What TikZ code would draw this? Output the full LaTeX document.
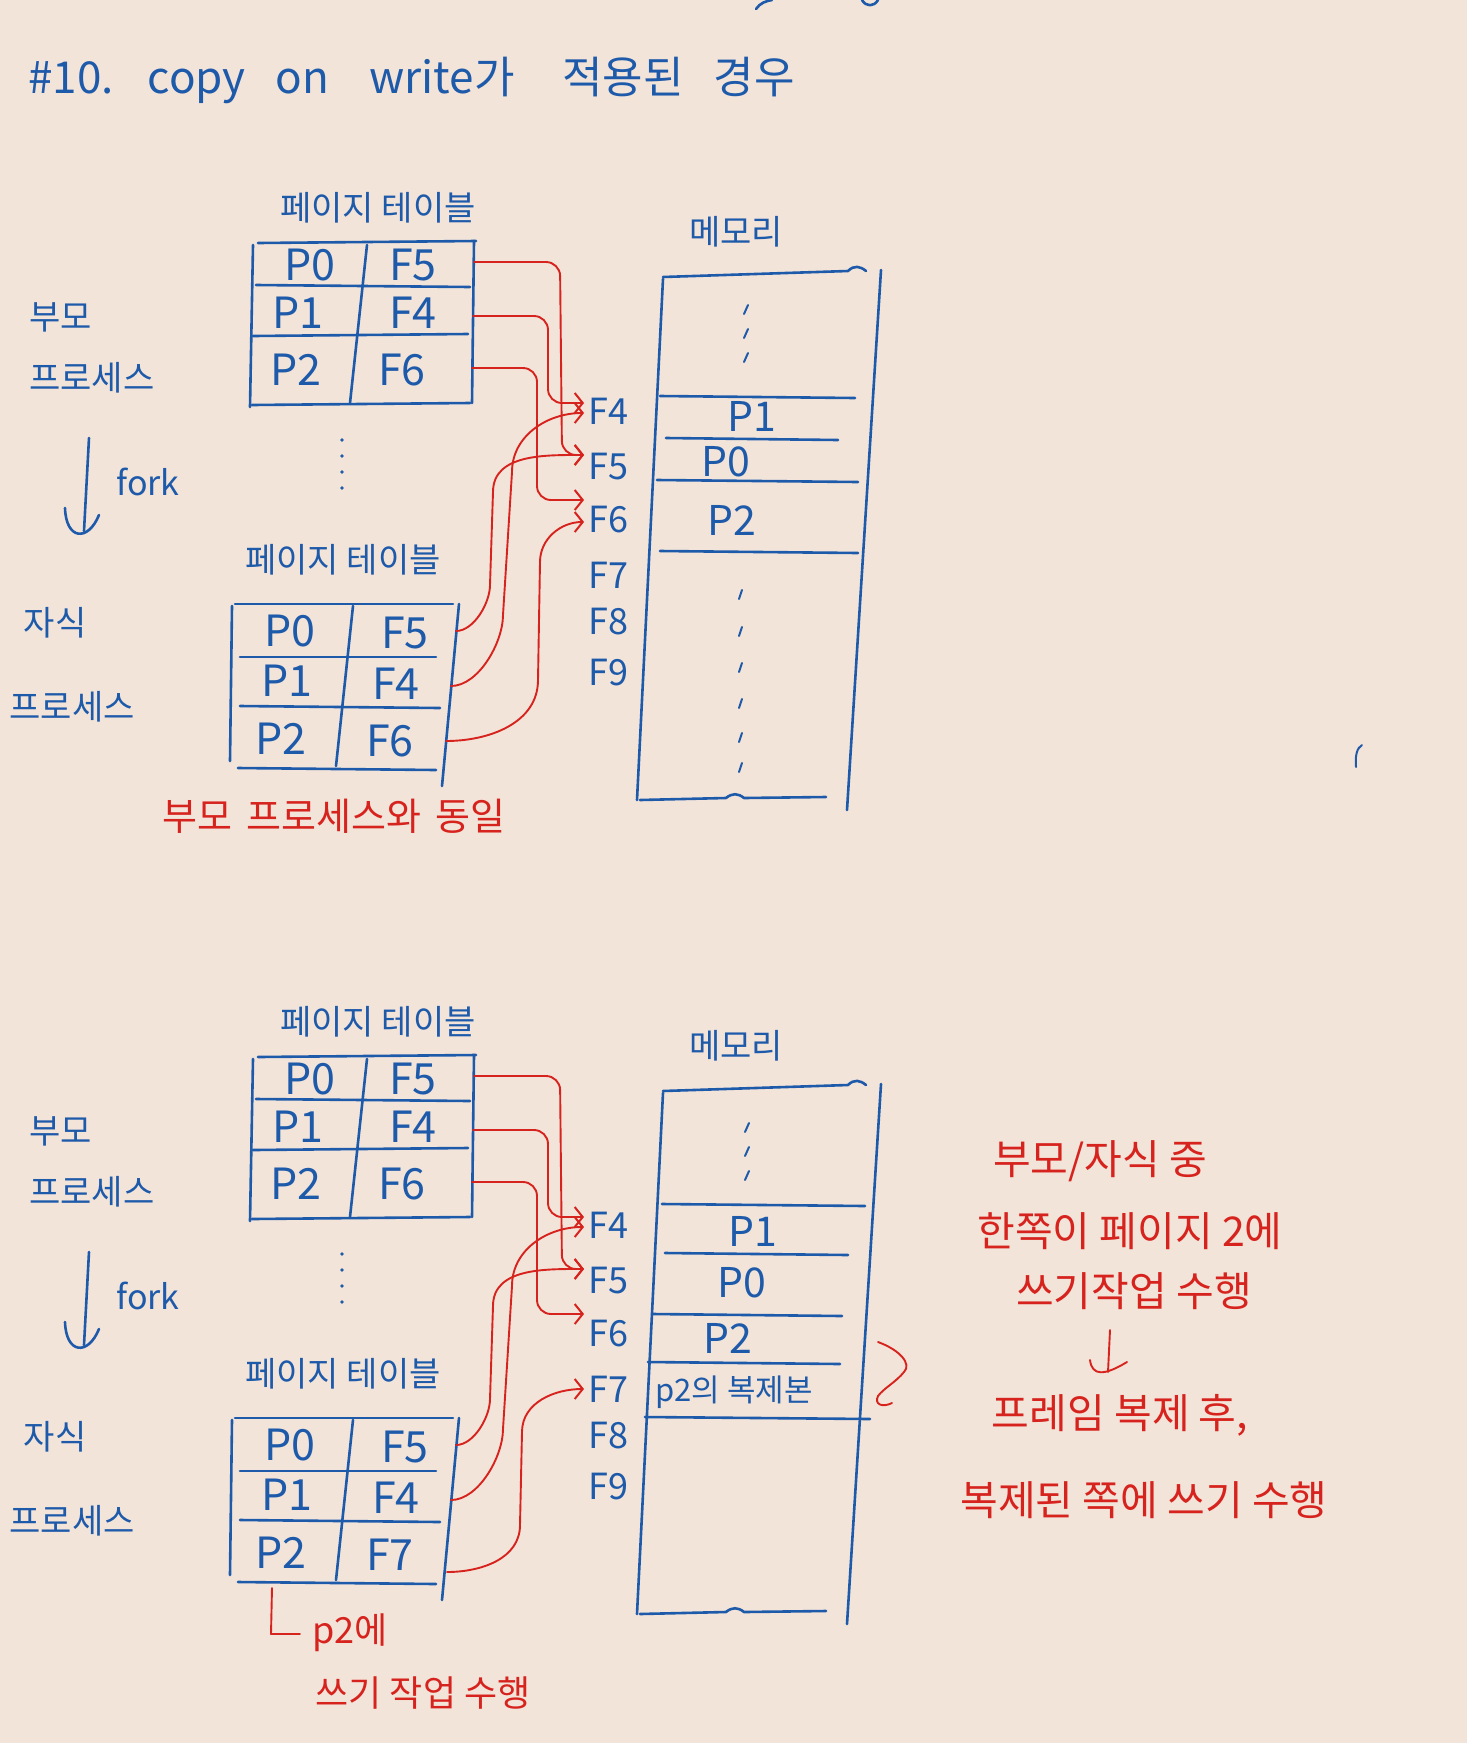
\documentclass[tikz,border=0pt]{standalone}
\usepackage{fontspec}
\setmainfont{Noto Sans CJK KR}
\usetikzlibrary{arrows.meta}
\definecolor{paper}{HTML}{F3E4D9}
\definecolor{inkblue}{HTML}{1E5AAA}
\definecolor{inkred}{HTML}{D7231E}
\tikzset{
  bl/.style={draw=inkblue, line width=2.6pt, line cap=round, line join=round},
  rl/.style={draw=inkred, line width=1.9pt, line cap=round, line join=round},
  rarrow/.style={rl, -{Straight Barb[length=8pt,width=20pt,line width=2pt]}},
  bt/.style={text=inkblue, inner sep=0pt, font=\fontsize{34}{40}\selectfont},
  rt/.style={text=inkred, inner sep=0pt, font=\fontsize{34}{40}\selectfont},
  rbig/.style={rt, font=\fontsize{41}{46}\selectfont},
  cell/.style={bt, font=\fontsize{43}{46}\selectfont},
  frm/.style={bt, anchor=west, inner sep=4pt, font=\fontsize{36}{40}\selectfont},
  memt/.style={bt, font=\fontsize{41}{46}\selectfont},
}
\newcommand\cowhalf[3]{%
\begin{scope}[yshift=-#2pt]
  % left labels
  \node[bt] (#1par1) at (61,317) {부모};
  \node[bt] (#1par2) at (92,378) {프로세스};
  \coordinate (#1forktop) at (89,438);
  \coordinate (#1forkbot) at (84,531);
  \draw[bl] (#1forktop) -- (#1forkbot);
  \draw[bl] (65,508) .. controls (66,540) and (88,542) .. (99,515);
  \node[bt] (#1fork) at (148,482) {fork};
  \node[bt] (#1chd1) at (55,623) {자식};
  \node[bt] (#1chd2) at (72,707) {프로세스};
  % table titles
  \node[bt] (#1ptl) at (378,208) {페이지 테이블};
  \node[bt] (#1ctl) at (343,560) {페이지 테이블};
  \node[bt] (#1mem) at (736,232) {메모리};
  % parent table
  \draw[bl] (258,243) -- (476,241);
  \draw[bl] (253,245) -- (250,407);
  \draw[bl] (474,241) -- (472,403);
  \draw[bl] (252,405) -- (470,403);
  \draw[bl] (256,285) -- (470,287);
  \draw[bl] (253,336) -- (468,334);
  \draw[bl] (367,245) -- (350,403);
  \node[cell] (#1pp0) at (310,265) {P0};
  \node[cell] (#1pf5) at (413,265) {F5};
  \node[cell] (#1pp1) at (298,313) {P1};
  \node[cell] (#1pf4) at (413,313) {F4};
  \node[cell] (#1pp2) at (296,370) {P2};
  \node[cell] (#1pf6) at (402,370) {F6};
  \coordinate (#1pr0) at (474,262);
  \coordinate (#1pr1) at (473,316);
  \coordinate (#1pr2) at (472,368);
  % dots between tables
  \foreach \yy in {440,456,472,488} \fill[inkblue] (342,\yy) circle (1.8pt);
  % child table
  \draw[bl] (235,604) -- (453,604);
  \draw[bl] (232,606) -- (230,761);
  \draw[bl] (459,604) -- (442,786);
  \draw[bl] (238,768) -- (436,770);
  \draw[bl] (240,657) -- (436,657);
  \draw[bl] (240,706) -- (440,708);
  \draw[bl] (353,606) -- (336,766);
  \node[cell] (#1cp0) at (290,631) {P0};
  \node[cell] (#1cf5) at (405,633) {F5};
  \node[cell] (#1cp1) at (287,681) {P1};
  \node[cell] (#1cf4) at (396,684) {F4};
  \node[cell] (#1cp2) at (281,739) {P2};
  \node[cell] (#1cfx) at (390,741) {#3};
  \coordinate (#1cr0) at (456,631);
  \coordinate (#1cr1) at (451,686);
  % frame labels
  \node[frm] (#1f4) at (584,411) {F4};
  \node[frm] (#1f5) at (584,467) {F5};
  \node[frm] (#1f6) at (584,520) {F6};
  \node[frm] (#1f7) at (584,575) {F7};
  \node[frm] (#1f8) at (584,622) {F8};
  \node[frm] (#1f9) at (584,673) {F9};
  % memory outline
  \draw[bl] (663,277) -- (848,271) .. controls (854,265) and (860,266) .. (866,271);
  \draw[bl] (663,279) -- (637,800);
  \draw[bl] (881,270) -- (847,810);
  \draw[bl] (640,800) -- (726,798) .. controls (732,793) and (738,793) .. (744,798) -- (826,797);
  % parent -> frame arrows
  \draw[rarrow, rounded corners=14pt] (#1pr0) -- (560,262) -- (562,455) -- ([yshift=12pt]#1f5.west);
  \draw[rarrow, rounded corners=14pt] (#1pr1) -- (548,316) -- (548,403) -- ([yshift=8pt]#1f4.west);
  \draw[rarrow, rounded corners=14pt] (#1pr2) -- (537,368) -- (537,500) -- ([yshift=20pt]#1f6.west);
  % child -> frame arrows (shared pages)
  \draw[rarrow] (#1cr0) to[out=0,in=-90,looseness=0.8] (490,585) -- (493,492) to[out=90,in=180] ([yshift=12pt]#1f5.west);
  \draw[rarrow] (#1cr1) to[out=0,in=-90,looseness=0.8] (503,615) -- (512,472) to[out=90,in=180] ([yshift=-2pt]#1f4.west);
\end{scope}}
\begin{document}
\begin{tikzpicture}[x=1pt,y=-1pt]
\fill[paper] (0,0) rectangle (1467,1743);
\useasboundingbox (0,0) rectangle (1467,1743);
% cut-off strokes at the top edge
\draw[bl] (756,9) .. controls (760,3) and (766,1) .. (772,0);
\draw[bl] (862,0) .. controls (866,7) and (874,7) .. (878,0);
% title
\node[bt, anchor=west, font=\fontsize{44}{50}\selectfont] (title) at (28,80)
  {\#10.\hspace{34pt}copy\hspace{30pt}on\hspace{40pt}write가\hspace{48pt}적용된\hspace{30pt}경우};

\cowhalf{a}{0}{F6}
\cowhalf{b}{814}{F7}

% ---------- top half specifics ----------
\draw[rarrow] (446,741) to[out=0,in=-90] (538,680) -- (540,562) to[out=90,in=180] ([yshift=-2pt]af6.west);
\node[rt, font=\fontsize{38}{42}\selectfont] (same) at (334,816) {부모\hspace{14pt}프로세스와\hspace{14pt}동일};
% memory rows (top)
\draw[bl] (660,396) -- (855,398);
\draw[bl] (666,438) -- (838,440);
\draw[bl] (657,480) -- (858,482);
\draw[bl] (660,551) -- (858,553);
\node[memt] (amp1) at (752,416) {P1};
\node[memt] (amp0) at (726,462) {P0};
\node[memt] (amp2) at (732,520) {P2};
\foreach \yy in {310,334,358} \draw[bl, line width=2pt] (748,\yy-5) -- (744,\yy+4);
\foreach \yy in {595,632,668,704,738,768} \draw[bl, line width=2pt] (742,\yy-5) -- (739,\yy+4);

% ---------- bottom half specifics ----------
\draw[rarrow] (447,1572) to[out=0,in=-90] (520,1525) -- (522,1432) to[out=90,in=180] (bf7.west);
% memory rows (bottom)
\draw[bl] (662,1204) -- (865,1206);
\draw[bl] (665,1253) -- (848,1255);
\draw[bl] (653,1314) -- (842,1316);
\draw[bl] (648,1362) -- (840,1364);
\draw[bl] (645,1417) -- (870,1419);
\node[memt] (bmp1) at (753,1231) {P1};
\node[memt] (bmp0) at (742,1283) {P0};
\node[memt] (bmp2) at (728,1338) {P2};
\node[bt, font=\fontsize{31}{34}\selectfont] (bcopy) at (734,1392) {p2의 복제본};
\foreach \yy in {1128,1152,1176} \draw[bl, line width=2pt] (749,\yy-5) -- (745,\yy+4);
% copy hook arrow
\draw[rl] (878,1342) .. controls (900,1350) and (912,1364) .. (904,1372)
  .. controls (896,1382) and (884,1388) .. (878,1396)
  .. controls (874,1404) and (882,1408) .. (892,1403);
% write note under child table
\coordinate (brk0) at (272,1588);
\coordinate (brk1) at (300,1634);
\draw[rl] (brk0) -- (271,1634) -- (brk1);
\node[rt, font=\fontsize{36}{40}\selectfont] (bwr1) at (350,1633) {p2에};
\node[rt, font=\fontsize{36}{40}\selectfont] (bwr2) at (423,1693) {쓰기 작업 수행};
% right-hand explanation
\node[rbig] (n1) at (1100,1161) {부모/자식 중};
\node[rbig] (n2) at (1130,1231) {한쪽이 페이지 2에};
\node[rbig] (n3) at (1134,1291) {쓰기작업 수행};
\coordinate (ja) at (1110,1330);
\coordinate (jb) at (1108,1372);
\draw[rl] (ja) -- (jb);
\draw[rl] (1090,1360) .. controls (1092,1376) and (1104,1376) .. (1127,1362);
\node[rbig] (n4) at (1120,1415) {프레임 복제 후,};
\node[rbig] (n5) at (1144,1500) {복제된 쪽에 쓰기 수행};
% stray mark
\draw[bl, line width=2pt] (1356,767) .. controls (1355,755) and (1357,748) .. (1362,745);
\end{tikzpicture}
\end{document}
